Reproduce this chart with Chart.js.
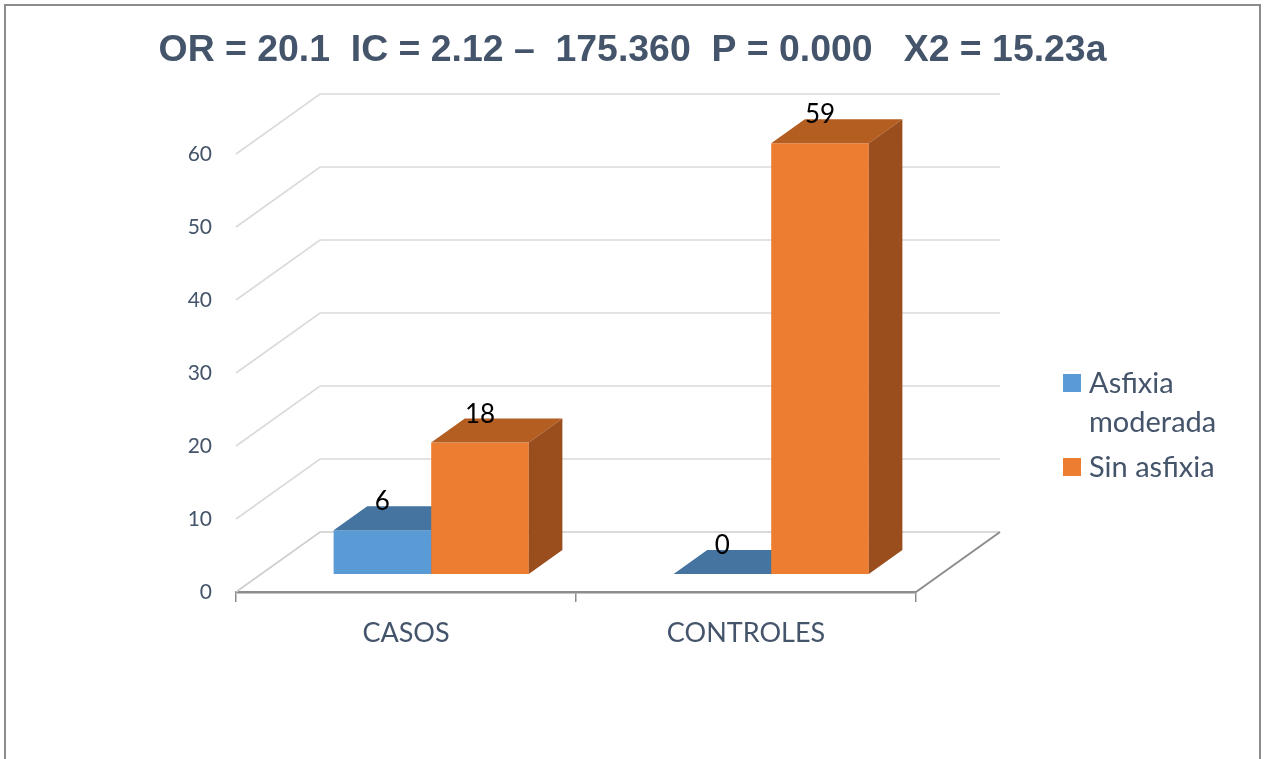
<!DOCTYPE html>
<html>
<head>
<meta charset="utf-8">
<script src="https://cdn.jsdelivr.net/npm/chart.js@4.4.1/dist/chart.umd.min.js"></script>
<style>
  html, body { margin: 0; padding: 0; background: #fff; overflow: hidden; width: 1265px; height: 759px; }
  #frame { position: absolute; left: 4px; top: 4px; width: 1253px; height: 800px;
           border: 2px solid #8c8c8c; border-bottom: none; }
  #chart { position: absolute; left: 0; top: 0; }
</style>
</head>
<body>
<div id="frame"></div>
<canvas id="chart" width="1265" height="759"></canvas>
<script>
// ---- data ----
const titleText = 'OR = 20.1  IC = 2.12 –  175.360  P = 0.000   X2 = 15.23a';
const categories = ['CASOS', 'CONTROLES'];
const seriesNames = ['Asfixia moderada', 'Sin asfixia'];
const asfixiaModerada = [6, 0];
const sinAsfixia = [18, 59];
const yTicks = [0, 10, 20, 30, 40, 50, 60];

// ---- look ----
const TEXT = '#44546A';
const SANS = 'Lato';
const faces = [
  { front: '#5B9BD5', top: '#44749F', side: '#3E6890' },
  { front: '#ED7D31', top: '#B45E22', side: '#9A4D1D' }
];
// depth of the floor (screen offset of back wall) and bar slab inside it
const DX = 84, DY = 60;
const BAR_START = 0.3, BAR_DEPTH = 0.4;

function poly(ctx, pts) {
  ctx.beginPath();
  ctx.moveTo(pts[0][0], pts[0][1]);
  for (let i = 1; i < pts.length; i++) ctx.lineTo(pts[i][0], pts[i][1]);
  ctx.closePath();
  ctx.fill();
}

// walls, floor and 3D bar bodies
const box3d = {
  id: 'box3d',
  beforeDatasetsDraw(chart) {
    const { ctx, chartArea: { left, right }, scales: { y } } = chart;
    ctx.save();
    ctx.lineWidth = 1.6;
    yTicks.forEach(v => {
      const py = y.getPixelForValue(v);
      ctx.strokeStyle = v === 0 ? '#cdcdcd' : '#dadadd';
      ctx.beginPath();
      ctx.moveTo(left, py);
      ctx.lineTo(left + DX, py - DY);
      ctx.lineTo(right + DX, py - DY);
      ctx.stroke();
    });
    const p0 = y.getPixelForValue(0);
    ctx.strokeStyle = '#8c8c8c';
    ctx.lineWidth = 2;
    ctx.beginPath();
    ctx.moveTo(right, p0);
    ctx.lineTo(right + DX, p0 - DY);
    ctx.stroke();
    ctx.restore();
  },
  beforeDatasetDraw() {
    return false; // bodies are drawn as solids below
  },
  afterDatasetsDraw(chart) {
    const { ctx } = chart;
    const fx = DX * BAR_START, fy = DY * BAR_START;
    const dx = DX * BAR_DEPTH, dy = DY * BAR_DEPTH;
    const labels = [];
    ctx.save();
    chart.data.datasets.forEach((ds, di) => {
      const meta = chart.getDatasetMeta(di);
      const f = faces[di];
      meta.data.forEach((el, i) => {
        const { x, y, base, width } = el.getProps(['x', 'y', 'base', 'width'], true);
        const L = x - width / 2 + fx, R = x + width / 2 + fx;
        const T = y - fy, B = base - fy;
        ctx.fillStyle = f.front;
        ctx.fillRect(L, T, R - L, B - T);
        ctx.fillStyle = f.top;
        poly(ctx, [[L, T], [L + dx, T - dy], [R + dx, T - dy], [R, T]]);
        ctx.fillStyle = f.side;
        poly(ctx, [[R, T], [R + dx, T - dy], [R + dx, B - dy], [R, B]]);
        labels.push({ text: String(ds.data[i]), x: (L + R) / 2, y: T - 20 });
      });
    });
    ctx.fillStyle = '#000';
    ctx.font = '26px ' + SANS;
    ctx.textAlign = 'center';
    ctx.textBaseline = 'alphabetic';
    labels.forEach(l => ctx.fillText(l.text, l.x, l.y));
    ctx.restore();
  }
};

// legend at the right, wrapping long names
const sideLegend = {
  id: 'sideLegend',
  afterDraw(chart) {
    const { ctx } = chart;
    const x0 = 1063, textX = 1089, maxW = 150, lineH = 39, gap = 45;
    let base = 393;
    ctx.save();
    ctx.font = '29px ' + SANS;
    ctx.textAlign = 'left';
    ctx.textBaseline = 'alphabetic';
    chart.data.datasets.forEach((ds, di) => {
      const words = ds.label.split(' ');
      const lines = [];
      let cur = '';
      words.forEach(w => {
        const t = cur ? cur + ' ' + w : w;
        if (cur && ctx.measureText(t).width > maxW) { lines.push(cur); cur = w; }
        else cur = t;
      });
      lines.push(cur);
      ctx.fillStyle = faces[di].front;
      ctx.fillRect(x0, base - 19, 18, 18);
      ctx.fillStyle = TEXT;
      lines.forEach((ln, k) => ctx.fillText(ln, textX, base + k * lineH));
      base += (lines.length - 1) * lineH + gap;
    });
    ctx.restore();
  }
};

new Chart(document.getElementById('chart'), {
  type: 'bar',
  data: {
    labels: categories,
    datasets: [
      { label: seriesNames[0], data: asfixiaModerada, backgroundColor: faces[0].front },
      { label: seriesNames[1], data: sinAsfixia, backgroundColor: faces[1].front }
    ]
  },
  options: {
    responsive: false,
    animation: false,
    events: [],
    devicePixelRatio: 1,
    layout: { padding: 0 },
    datasets: { bar: { categoryPercentage: 0.574, barPercentage: 1.0 } },
    plugins: {
      legend: { display: false },
      tooltip: { enabled: false },
      title: {
        display: true,
        text: titleText,
        color: TEXT,
        font: { family: 'Liberation Sans', size: 37.4, weight: 'bold', lineHeight: 1 },
        padding: { top: 32, bottom: 84.6 }
      }
    },
    scales: {
      x: {
        afterFit(s) { s.height = 167; },
        grid: { offset: true, drawOnChartArea: false, drawTicks: true, tickLength: 10, color: '#8c8c8c', lineWidth: 1.5 },
        border: { display: true, color: '#8c8c8c', width: 2.5 },
        ticks: { color: TEXT, font: { family: SANS, size: 27 }, padding: 15 }
      },
      y: {
        min: 0,
        max: 60,
        afterFit(s) { s.width = 236; },
        afterBuildTicks(s) { s.ticks = yTicks.map(v => ({ value: v })); },
        grid: { display: false, drawTicks: false },
        border: { display: false },
        ticks: { color: TEXT, font: { family: SANS, size: 21 }, padding: 24 }
      },
      // empty right-hand band that holds the legend
      legendBand: {
        type: 'linear',
        position: 'right',
        min: 0,
        max: 1,
        afterFit(s) { s.width = 349; },
        grid: { display: false, drawTicks: false },
        border: { display: false },
        ticks: { display: false }
      }
    }
  },
  plugins: [box3d, sideLegend]
});
</script>
</body>
</html>
